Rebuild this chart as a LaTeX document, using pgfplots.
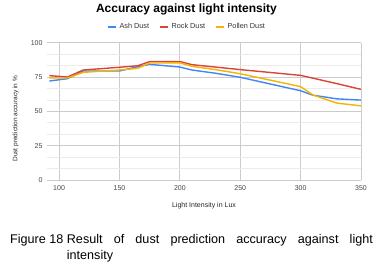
\documentclass[border=0pt]{standalone}
\usepackage{pgfplots}
\pgfplotsset{compat=1.18}
\usepackage{fontspec}
\setmainfont{Liberation Sans}
\definecolor{ashc}{HTML}{4285F4}
\definecolor{rockc}{HTML}{DB4437}
\definecolor{pollc}{HTML}{F4B400}
\definecolor{gridc}{HTML}{CCCCCC}
\definecolor{minorc}{HTML}{EBEBEB}
\definecolor{txtc}{HTML}{444444}
\definecolor{basec}{HTML}{333333}
\begin{document}
\begin{tikzpicture}[x=1pt,y=1pt]
\begin{axis}[
  name=ax,
  scale only axis, width=314pt, height=137.3pt,
  xmin=90, xmax=350, ymin=0, ymax=100,
  xtick={100,150,200,250,300,350},
  ytick={0,25,50,75,100},
  minor y tick num=2,
  grid=both,
  major grid style={gridc, line width=0.8pt},
  minor grid style={minorc, line width=0.8pt},
  axis line style={draw=none},
  tick style={draw=none},
  /pgf/number format/assume math mode=true,
  ticklabel style={font=\fontsize{7}{8}\selectfont, text=txtc},
  yticklabel style={xshift=-1pt},
  xticklabel style={yshift=-2pt},
  title={Accuracy against light intensity},
  title style={at={(axis description cs:0.444,1.175)}, anchor=base,
    font=\fontsize{12}{14}\selectfont\bfseries, text=black},
  xlabel={Light Intensity in Lux},
  xlabel style={at={(axis description cs:0.5,-0.189)}, anchor=center,
    font=\fontsize{7}{8}\selectfont, text=black!85},
  ylabel={Dust prediction accuracy in \%},
  ylabel style={at={(axis description cs:-0.0997,0.446)}, anchor=center,
    font=\fontsize{6.5}{8}\selectfont, text=black!85},
  legend style={at={(axis description cs:0.446,1.114)}, anchor=center,
    draw=none, fill=none, legend columns=3,
    font=\fontsize{7.3}{8}\selectfont, text=black!80,
    /tikz/every even column/.append style={column sep=8pt},
    inner sep=0pt},
  legend image code/.code={\draw[#1, line width=2.4pt] (0pt,0pt) -- (8pt,0pt);},
  every axis plot/.append style={line width=1.4pt, line join=round},
]
\addplot[ashc] coordinates {(92,72.1) (107,73.8) (120,79.4) (150,79.4) (165,82.5) (175,84.2) (200,82.3) (210,80.1) (230,77.7) (250,74.8) (300,65.0) (310,61.8) (330,59.1) (350,58.2)};
\addlegendentry{Ash Dust}
\addplot[rockc] coordinates {(92,76.0) (107,75.0) (120,80.1) (150,82.1) (165,83.2) (175,86.2) (200,86.3) (210,84.0) (230,82.2) (250,80.4) (300,76.2) (310,74.2) (330,70.2) (350,66.0)};
\addlegendentry{Rock Dust}
\addplot[pollc] coordinates {(92,74.3) (107,74.3) (120,78.4) (150,80.1) (165,81.3) (175,85.2) (200,85.3) (210,82.8) (230,80.3) (250,77.4) (300,68.0) (310,62.0) (330,56.0) (350,54.0)};
\addlegendentry{Pollen Dust}
\draw[basec, line width=0.8pt] (axis cs:90,0) -- (axis cs:350,0);
\end{axis}
\coordinate (O) at ([xshift=-47pt,yshift=-92pt]ax.south west);
\pgfresetboundingbox
\begin{scope}[shift={(O)}]
\path[use as bounding box] (0,0) rectangle (389,272);
\node[anchor=base west, inner sep=0pt, font=\fontsize{12.6}{16}\selectfont] at (10,28) {Figure 18};
\node[anchor=base west, inner sep=0pt] at (66.7,28) {\parbox[t]{306pt}{\fontsize{12.6}{16}\selectfont\hyphenpenalty=10000 Result of dust prediction accuracy against light\linebreak intensity}};
\end{scope}
\end{tikzpicture}
\end{document}
